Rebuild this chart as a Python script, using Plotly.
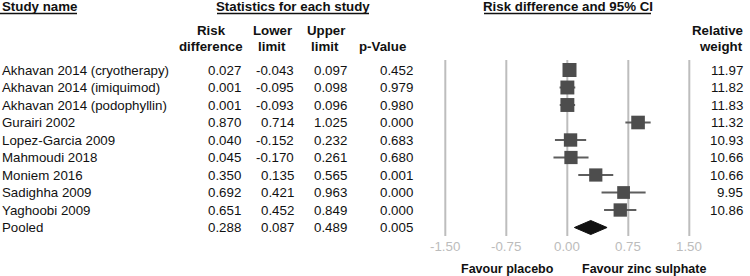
import plotly.graph_objects as go

studies = ["Akhavan 2014 (cryotherapy)", "Akhavan 2014 (imiquimod)", "Akhavan 2014 (podophyllin)",
           "Gurairi 2002", "Lopez-Garcia 2009", "Mahmoudi 2018", "Moniem 2016",
           "Sadighha 2009", "Yaghoobi 2009"]
risk_diff = [0.027, 0.001, 0.001, 0.870, 0.040, 0.045, 0.350, 0.692, 0.651]
lower = [-0.043, -0.095, -0.093, 0.714, -0.152, -0.170, 0.135, 0.421, 0.452]
upper = [0.097, 0.098, 0.096, 1.025, 0.232, 0.261, 0.565, 0.963, 0.849]
p_values = [0.452, 0.979, 0.980, 0.000, 0.683, 0.680, 0.001, 0.000, 0.000]
weights = [11.97, 11.82, 11.83, 11.32, 10.93, 10.66, 10.66, 9.95, 10.86]

pooled_name = "Pooled"
pooled_rd = 0.288
pooled_lower = 0.087
pooled_upper = 0.489
pooled_p = 0.005

tick_vals = [-1.5, -0.75, 0.0, 0.75, 1.5]
tick_text = ["-1.50", "-0.75", "0.00", "0.75", "1.50"]

W, H = 750, 276
FONT = "Liberation Sans, Arial, sans-serif"
# pixel mapping helpers for layout (x: data 0 at 567.3px, 81.33 px/unit)
X0PX, PXU = 567.3, 81.33
ROW0, ROWH = 70.0, 17.5
xr = [-X0PX / PXU, (W - X0PX) / PXU]
yr = [(H - ROW0) / ROWH, (0 - ROW0) / ROWH]

def px(x):
    return x / W

def py(y):
    return 1 - y / H

n = len(studies)
rows = list(range(n))
pooled_row = n

fig = go.Figure()

# gridlines
for tv in tick_vals:
    fig.add_shape(type="line", x0=tv, x1=tv, xref="x", yref="y",
                  y0=(60 - ROW0) / ROWH, y1=(236 - ROW0) / ROWH,
                  line=dict(color="#bdbdbd", width=2), layer="below")

maxw = max(weights)
sizes = [14 * (w / maxw) ** 0.5 for w in weights]
fig.add_trace(go.Scatter(
    x=risk_diff, y=rows, mode="markers",
    marker=dict(symbol="square", size=sizes, color="#4d4d4d", opacity=1, line=dict(width=0)),
    error_x=dict(type="data", symmetric=False,
                 array=[u - r for u, r in zip(upper, risk_diff)],
                 arrayminus=[r - l for r, l in zip(risk_diff, lower)],
                 color="#5e5e5e", thickness=2, width=0),
    hoverinfo="skip", showlegend=False))

# pooled diamond
dh = 0.4
fig.add_trace(go.Scatter(
    x=[pooled_lower, pooled_rd, pooled_upper, pooled_rd, pooled_lower],
    y=[pooled_row, pooled_row - dh, pooled_row, pooled_row + dh, pooled_row],
    mode="lines", fill="toself", fillcolor="#111111",
    line=dict(color="#111111", width=1), hoverinfo="skip", showlegend=False))

ann = []
def txt(text, x, y, xanchor="left", yref="y", bold=False, color="#111111", size=13.3):
    ann.append(dict(text=f"<b>{text}</b>" if bold else text, x=x, y=y, xref="paper", yref=yref,
                    xanchor=xanchor, yanchor="middle", showarrow=False,
                    font=dict(family=FONT, size=size, color=color)))

all_names = studies + [pooled_name]
all_rd = risk_diff + [pooled_rd]
all_lo = lower + [pooled_lower]
all_up = upper + [pooled_upper]
all_p = p_values + [pooled_p]
for i in range(n + 1):
    txt(all_names[i], px(0), i)
    txt(f"{all_rd[i]:.3f}", px(243), i, "right")
    txt(f"{all_lo[i]:.3f}", px(296), i, "right")
    txt(f"{all_up[i]:.3f}", px(349), i, "right")
    txt(f"{all_p[i]:.3f}", px(415), i, "right")
for i in range(n):
    txt(f"{weights[i]:.2f}", px(745), i, "right")

# headers
txt("Study name", px(0), py(6.5), yref="paper", bold=True)
txt("Statistics for each study", px(293), py(6.5), "center", yref="paper", bold=True)
txt("Risk difference and 95% CI", px(567.5), py(6.5), "center", yref="paper", bold=True)
txt("Risk", px(211), py(30.5), "center", yref="paper", bold=True)
txt("difference", px(211), py(46.5), "center", yref="paper", bold=True)
txt("Lower", px(272), py(30.5), "center", yref="paper", bold=True)
txt("limit", px(271.5), py(46.5), "center", yref="paper", bold=True)
txt("Upper", px(325.5), py(30.5), "center", yref="paper", bold=True)
txt("limit", px(325), py(46.5), "center", yref="paper", bold=True)
txt("p-Value", px(382.5), py(46.5), "center", yref="paper", bold=True)
txt("Relative", px(745), py(30.5), "right", yref="paper", bold=True)
txt("weight", px(745), py(46.5), "right", yref="paper", bold=True)

# tick labels
for tv, tt in zip(tick_vals, tick_text):
    ann.append(dict(text=tt, x=tv, y=py(246), xref="x", yref="paper", xanchor="center",
                    yanchor="middle", showarrow=False,
                    font=dict(family=FONT, size=13.3, color="#bcbcbc")))

txt("Favour placebo", px(507), py(269), "center", yref="paper", bold=True, size=12.5)
txt("Favour zinc sulphate", px(644), py(269), "center", yref="paper", bold=True, size=12.5)

# header underlines
for a, b in [(0, 77), (217, 369), (484, 651)]:
    fig.add_shape(type="line", xref="paper", yref="paper", x0=px(a), x1=px(b),
                  y0=py(13.5), y1=py(13.5), line=dict(color="#111111", width=1.5))

fig.update_layout(
    width=W, height=H, margin=dict(l=0, r=0, t=0, b=0),
    paper_bgcolor="white", plot_bgcolor="white",
    xaxis=dict(range=xr, visible=False, domain=[0, 1], fixedrange=True),
    yaxis=dict(range=yr, visible=False, domain=[0, 1], fixedrange=True),
    hovermode=False, annotations=ann, showlegend=False)

fig.write_html("out.html", config={"displayModeBar": False, "staticPlot": True},
               post_script="document.body.style.margin='0';document.body.style.overflow='hidden';")
